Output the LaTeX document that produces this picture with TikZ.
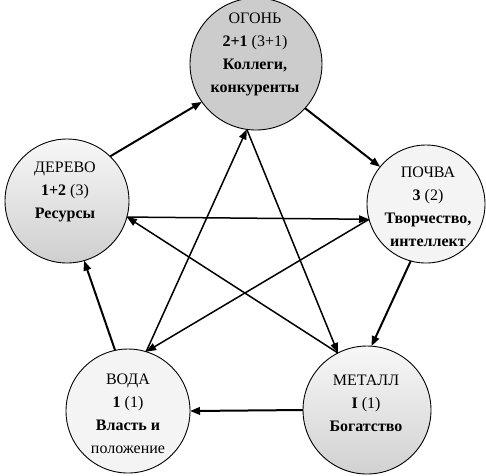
\documentclass[tikz,border=0pt]{standalone}
\usepackage{fontspec}
\setmainfont{Liberation Serif}
\usetikzlibrary{arrows.meta}
\begin{document}
\begin{tikzpicture}[x=1pt,y=-1pt,
 elem/.style={circle,draw,line width=0.9pt,inner sep=0pt,outer sep=0pt},
 lbl/.style={align=center,font=\fontsize{16}{23}\selectfont},
 cyc/.style={line width=2pt,-{Triangle[length=10pt,width=7.5pt]}},
 ctl/.style={line width=1.5pt,-{Triangle[length=10pt,width=7.5pt]}}]
\path[use as bounding box] (0,0) rectangle (486,475);
% circles
\node[elem,minimum size=132pt,fill=gray!40] (fire) at (256,64) {};
\node[elem,minimum size=124pt,top color=gray!6,bottom color=gray!38] (wood) at (67,201) {};
\node[elem,minimum size=118pt,fill=gray!9] (earth) at (426,204) {};
\node[elem,minimum size=124pt,fill=gray!9] (water) at (128,411) {};
\node[elem,minimum size=128pt,top color=gray!6,bottom color=gray!36] (metal) at (367,410) {};
% labels
\node[lbl] (tfire) at (255,54) {ОГОНЬ\\\textbf{2+1} (3+1)\\\textbf{Коллеги,}\\\textbf{конкуренты}};
\node[lbl] (twood) at (65,192) {ДЕРЕВО\\\textbf{1+2} (3)\\\textbf{Ресурсы}};
\node[lbl] (tearth) at (428,207) {ПОЧВА\\\textbf{3} (2)\\\textbf{Творчество,}\\\textbf{интеллект}};
\node[lbl] (twater) at (128,414) {ВОДА\\\textbf{1} (1)\\\textbf{Власть и}\\положение};
\node[lbl] (tmetal) at (366,403) {МЕТАЛЛ\\\textbf{I} (1)\\\textbf{Богатство}};
% generating cycle
\draw[cyc] (wood.46) -- (fire.-145);
\draw[cyc] (fire.-42) -- (earth.141);
\draw[cyc] (earth.-105) -- (metal.86);
\draw[cyc] (metal.180) -- (water.0);
\draw[cyc] (water.102) -- (wood.-74);
% controlling cycle (star)
\draw[ctl] (wood.-15) -- (earth.-165);
\draw[ctl] (earth.-165) -- (water.73);
\draw[ctl] (water.73) -- (fire.-98);
\draw[ctl] (fire.-98) -- (metal.117);
\draw[ctl] (metal.117) -- (wood.-15);
\end{tikzpicture}
\end{document}
